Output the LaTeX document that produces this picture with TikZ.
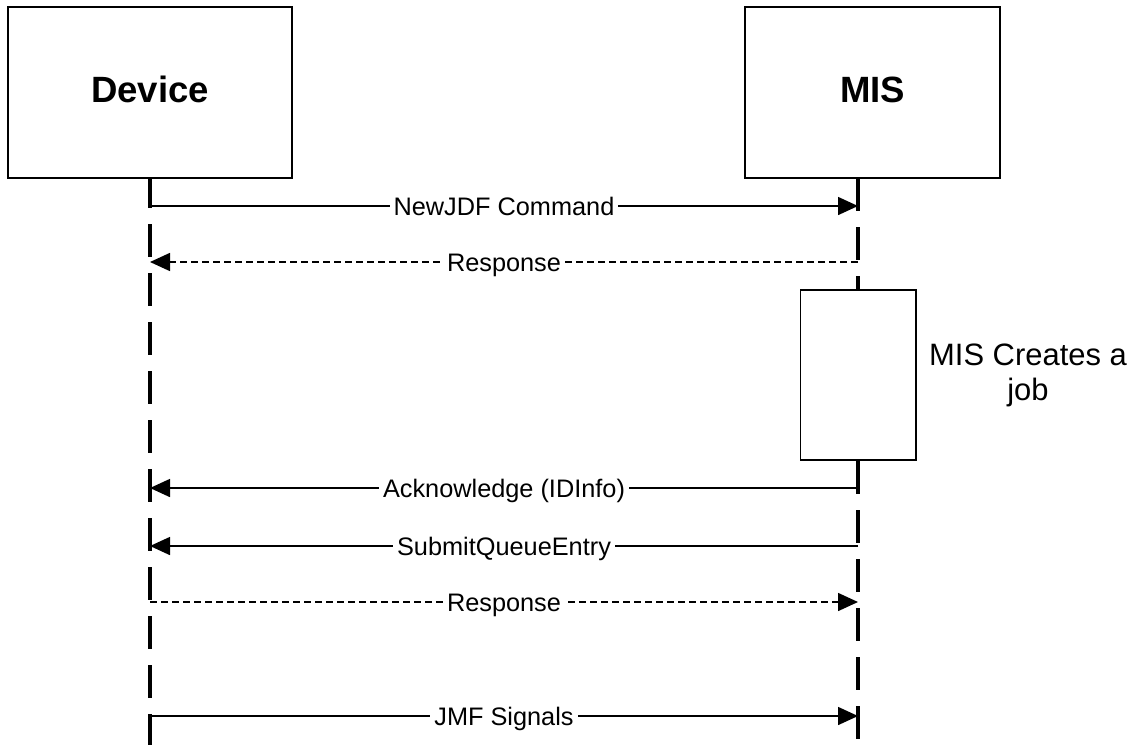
\documentclass[tikz,border=0pt]{standalone}
\usepackage{fontspec}
\setmainfont{Liberation Sans}
\usetikzlibrary{arrows.meta}
\tikzset{
  party/.style={draw, line width=1.4pt, minimum height=4.275cm, text height=18.6pt, text depth=5pt, font=\fontsize{26}{30}\selectfont\bfseries},
  lifeline/.style={line width=2.8pt, dash pattern=on 0.825cm off 0.4cm},
  msg/.style={line width=1.1pt, -{Triangle[length=0.5cm,width=0.45cm]}},
  reply/.style={msg, dash pattern=on 0.175cm off 0.1cm},
  msglabel/.style={fill=white, inner xsep=0.1cm, inner ysep=0pt, text height=12.8pt, text depth=0pt, font=\fontsize{18}{21}\selectfont},
}
\begin{document}
\begin{tikzpicture}[x=0.025cm, y=-0.025cm]
\useasboundingbox (0,0) rectangle (1136,745);
\node[party, minimum width=7.1cm] (device) at (150,92.5) {Device};
\node[party, minimum width=6.375cm] (mis) at (872.5,92.5) {MIS};
\node[draw, line width=1.4pt, minimum width=2.875cm, minimum height=4.25cm] (act) at (858,375) {};
\node[align=center, font=\fontsize{22}{25}\selectfont] (note) at (1028,375) {MIS Creates a\\job};
\coordinate (mistop) at (858,178);
\coordinate (devend) at (150,745);
\coordinate (misend) at (858,745);
\draw[lifeline, dash phase=0.1cm] (device.south) -- (devend);
\draw[lifeline] (mistop) -- (act.north);
\draw[lifeline] (act.south) -- (misend);
\foreach \n/\y in {1/206,2/262,3/488,4/546,5/602,6/716} {
  \coordinate (dev\n) at (150,\y);
  \coordinate (mis\n) at (858,\y);
}
\draw[msg] (dev1) -- node[msglabel] (l1) {NewJDF Command} (mis1);
\draw[reply] (mis2) -- node[msglabel] (l2) {Response} (dev2);
\draw[msg] (mis3) -- node[msglabel] (l3) {Acknowledge (IDInfo)} (dev3);
\draw[msg] (mis4) -- node[msglabel] (l4) {SubmitQueueEntry} (dev4);
\draw[reply] (dev5) -- node[msglabel] (l5) {Response} (mis5);
\draw[msg] (dev6) -- node[msglabel] (l6) {JMF Signals} (mis6);
\end{tikzpicture}
\end{document}
